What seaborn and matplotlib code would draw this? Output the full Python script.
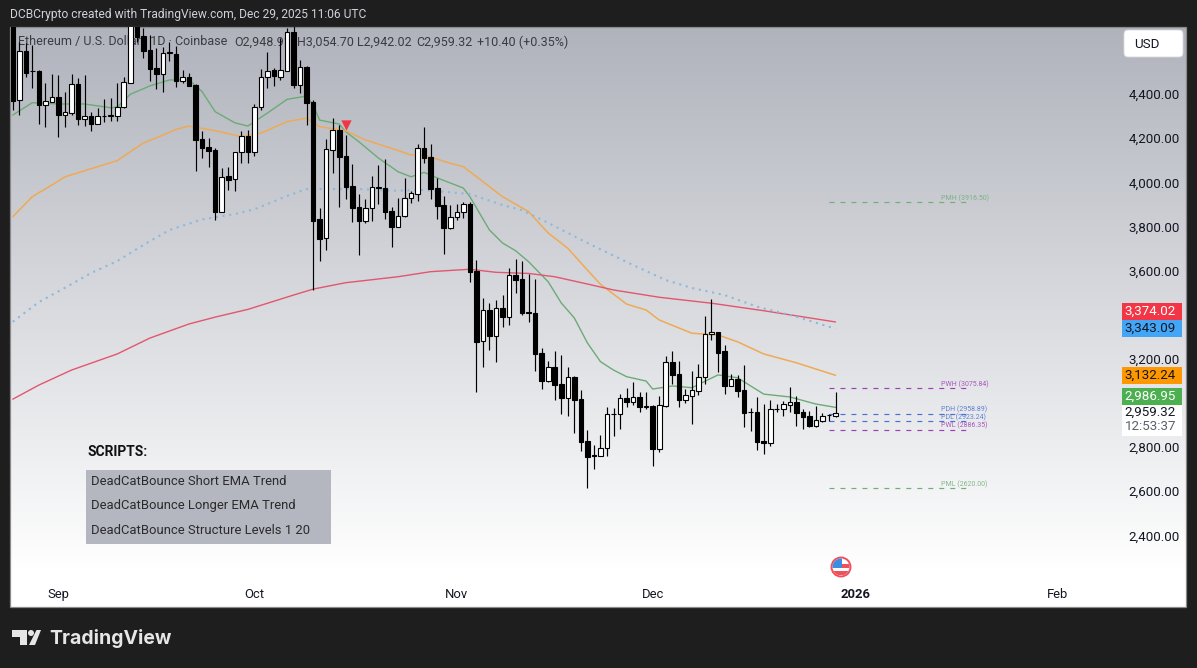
import numpy as np
import matplotlib
matplotlib.use('Agg')
import matplotlib.pyplot as plt
from matplotlib.patches import Rectangle, Polygon, Circle, FancyBboxPatch
from matplotlib.transforms import Affine2D
import seaborn as sns

# daily candles, day 0 = Sep 1
days = list(range(-7, 120))
opens = [4773, 4379, 4602, 4510, 4512, 4359, 4373,
         4392, 4312, 4323, 4451, 4295, 4308, 4273, 4306, 4309, 4309,
         4350, 4459, 4765, 4672, 4607, 4525, 4499, 4595, 4589, 4468,
         4483, 4448, 4202, 4167, 4153, 3874, 4036, 4020, 4143, 4217,
         4146, 4350, 4486, 4516, 4486, 4513, 4690, 4450, 4531, 4372,
         3841, 3753, 4155, 4244, 4126, 3990, 3895, 3833, 3889, 3983,
         3980, 3876, 3806, 3856, 3934, 3953, 4161, 4122, 3980, 3903,
         3801, 3848, 3871, 3909, 3604, 3286, 3427, 3312, 3436, 3398,
         3586, 3567, 3418, 3413, 3232, 3108, 3170, 3093, 3028, 3124,
         3023, 2833, 2770, 2768, 2801, 2957, 2958, 3029, 3013, 3034,
         2990, 2993, 2799, 2993, 3191, 3138, 3022, 3040, 3062, 3126,
         3318, 3328, 3242, 3085, 3117, 3066, 2965, 2965, 2834, 2827,
         2979, 2978, 2999, 3010, 2966, 2948, 2904, 2926, 2952, 2948.91]
highs = [4788, 4645, 4640, 4629, 4516, 4456, 4498,
         4493, 4418, 4498, 4478, 4493, 4327, 4342, 4383, 4388, 4456,
         4483, 4796, 4796, 4705, 4675, 4614, 4622, 4645, 4625, 4516,
         4501, 4451, 4240, 4206, 4161, 4070, 4078, 4146, 4241, 4244,
         4362, 4519, 4599, 4524, 4660, 4705, 4743, 4561, 4534, 4380,
         3891, 4202, 4297, 4267, 4221, 4090, 3954, 3931, 4036, 4085,
         4111, 3896, 3936, 4025, 3969, 4181, 4256, 4181, 4027, 3946,
         3904, 3907, 3919, 3919, 3655, 3481, 3459, 3473, 3496, 3620,
         3658, 3650, 3591, 3569, 3255, 3197, 3244, 3224, 3168, 3129,
         3066, 2884, 2816, 2862, 2990, 2983, 3047, 3073, 3103, 3058,
         3058, 2998, 3038, 3220, 3242, 3197, 3070, 3152, 3183, 3401,
         3478, 3328, 3270, 3137, 3134, 3179, 2983, 3032, 3000, 3020,
         3002, 3017, 3078, 3038, 2978, 2970, 2993, 2963, 2957, 3054.70]
lows = [4335, 4312, 4486, 4433, 4271, 4259, 4370,
        4214, 4259, 4312, 4267, 4262, 4241, 4271, 4282, 4286, 4286,
        4342, 4456, 4644, 4569, 4468, 4428, 4418, 4558, 4438, 4456,
        4444, 4060, 4116, 4078, 3836, 3872, 3972, 3969, 4093, 4093,
        4128, 4335, 4433, 4444, 4471, 4511, 4433, 4410, 4267, 3519,
        3652, 3700, 4048, 3896, 3933, 3828, 3678, 3824, 3833, 3909,
        3842, 3715, 3803, 3851, 3915, 3924, 4096, 3933, 3842, 3681,
        3795, 3836, 3844, 3556, 3058, 3171, 3247, 3194, 3352, 3360,
        3507, 3406, 3375, 3152, 3069, 3103, 3020, 2957, 2948, 2872,
        2790, 2623, 2707, 2766, 2766, 2857, 2889, 2990, 2998, 2967,
        2978, 2722, 2786, 2988, 3093, 2990, 3005, 2911, 3043, 3093,
        3292, 3147, 3047, 3084, 3032, 2899, 2881, 2794, 2775, 2813,
        2966, 2949, 2967, 2904, 2889, 2896, 2896, 2922, 2926, 2942.02]
closes = [4377, 4601, 4504, 4513, 4359, 4374, 4392,
          4312, 4324, 4451, 4294, 4306, 4271, 4306, 4308, 4311, 4350,
          4460, 4765, 4667, 4604, 4521, 4498, 4592, 4596, 4468, 4483,
          4445, 4199, 4164, 4150, 3874, 4033, 4018, 4143, 4217, 4144,
          4350, 4486, 4513, 4490, 4515, 4687, 4448, 4528, 4365, 3833,
          3750, 4157, 4243, 4123, 3986, 3892, 3833, 3889, 3984, 3984,
          3874, 3806, 3856, 3934, 3957, 4161, 4119, 3978, 3901, 3801,
          3848, 3871, 3907, 3602, 3284, 3427, 3312, 3436, 3398, 3586,
          3564, 3416, 3416, 3229, 3108, 3168, 3088, 3028, 3123, 3020,
          2831, 2763, 2768, 2801, 2955, 2959, 3028, 3013, 3032, 2990,
          2992, 2799, 2996, 3191, 3135, 3020, 3041, 3064, 3126, 3318,
          3327, 3235, 3084, 3114, 3061, 2963, 2966, 2831, 2825, 2978,
          2981, 3001, 3010, 2963, 2945, 2904, 2928, 2948, 2953, 2959.32]

# moving averages, read at the bends
green_days = [-7, -4, 0, 4, 8, 9, 11, 14, 17, 20, 22, 24, 27, 29, 32, 35, 38, 39, 40, 43, 44, 46, 49,
              52, 54, 56, 58, 62, 63, 66, 68, 70, 72, 75, 77, 79, 81, 83, 85, 87, 90, 91, 94, 97, 101,
              104, 108, 112, 116, 119]
green_vals = [4312, 4368, 4362, 4362, 4345, 4348, 4406, 4444, 4471, 4471, 4418, 4327, 4277, 4262, 4321, 4383,
              4398, 4357, 4289, 4271, 4236, 4191, 4117, 4055, 4032, 4052, 4027, 3981, 3942, 3791, 3732, 3697,
              3647, 3556, 3460, 3392, 3279, 3194, 3156, 3126, 3106, 3070, 3084, 3076, 3134, 3121, 3047, 3034,
              3002, 2986.95]
orange_days = [-7, -4, -1, 1, 6, 9, 11, 13, 16, 18, 20, 24, 28, 31, 35, 38, 40, 44, 47, 51, 54, 56, 60, 62,
               65, 68, 72, 75, 78, 81, 83, 87, 90, 92, 97, 101, 104, 108, 113, 119]
orange_vals = [3851, 3942, 3995, 4032, 4078, 4105, 4146, 4185, 4221, 4247, 4262, 4241, 4214, 4230, 4282, 4298,
               4259, 4241, 4199, 4161, 4131, 4131, 4093, 4078, 4010, 3942, 3874, 3777, 3708, 3609, 3545, 3455,
               3428, 3383, 3323, 3315, 3284, 3229, 3189, 3132.24]
blue_days = [-7, -3, 1, 5, 9, 13, 17, 22, 27, 30, 35, 38, 46, 51, 56, 63, 68, 71, 75, 81, 88, 93, 97,
             102, 107, 113, 119]
blue_vals = [3375, 3464, 3529, 3596, 3650, 3723, 3791, 3839, 3863, 3885, 3945, 3977, 3977, 3969, 3972, 3954,
             3904, 3881, 3823, 3732, 3632, 3564, 3528, 3496, 3443, 3398, 3343.09]
red_days = [-7, -3, 2, 9, 14, 20, 24, 29, 36, 39, 44, 52, 57, 63, 67, 72, 76, 81, 85, 92, 100, 108, 119]
red_vals = [3024, 3088, 3156, 3229, 3301, 3365, 3396, 3431, 3496, 3523, 3552, 3579, 3602, 3613, 3599, 3594,
            3579, 3546, 3519, 3486, 3459, 3425, 3374.02]

# structure levels
level_names = ['PMH', 'PWH', 'PDH', 'PDL', 'PWL', 'PML']
level_vals = [3916.50, 3075.84, 2958.89, 2923.24, 2886.35, 2620.00]
level_colors = ['#6fae78', '#9c3fb5', '#4a6fd0', '#4a6fd0', '#9c3fb5', '#6fae78']

ytick_vals = [2400, 2600, 2800, 3200, 3600, 3800, 4000, 4200, 4400]
month_days = [0, 30, 61, 91, 122, 153]
month_labels = ['Sep', 'Oct', 'Nov', 'Dec', '2026', 'Feb']
script_names = ['DeadCatBounce Short EMA Trend', 'DeadCatBounce Longer EMA Trend',
                'DeadCatBounce Structure Levels 1 20']

sns.set_theme(style='white')
plt.rcParams['font.family'] = ['Roboto', 'DejaVu Sans']

W, H = 1197, 668
fig = plt.figure(figsize=(W / 100, H / 100), dpi=100, facecolor='#1e1e1e')

# backdrop in pixel coordinates
bg = fig.add_axes([0, 0, 1, 1], zorder=0)
bg.set_xlim(0, W)
bg.set_ylim(H, 0)
bg.axis('off')
grad = np.linspace(0, 1, 300)[:, None, None] * (np.array([255, 255, 255]) - np.array([176, 179, 188])) + np.array([176, 179, 188])
bg.imshow(grad / 255, extent=[10, 1186, 570, 27], aspect='auto', zorder=1)
bg.add_patch(Rectangle((10, 570), 1176, 37, color='white', lw=0, zorder=1))
bg.set_xlim(0, W)
bg.set_ylim(H, 0)
bg.add_patch(Rectangle((10, 27), 1176, 580, fill=False, ec='#8a8a8a', lw=0.9, zorder=2))
bg.text(10, 14.5, 'DCBCrypto created with TradingView.com, Dec 29, 2025 11:06 UTC', color='#cfd2d8',
        fontsize=8.65, va='center', ha='left')

# TradingView mark
bg.add_patch(Polygon([(12, 630), (27, 630), (27, 645), (20, 645), (20, 636.5), (12, 636.5)], color='#e6e6e6', lw=0))
bg.add_patch(Circle((31, 633), 3, color='#e6e6e6', lw=0))
bg.add_patch(Polygon([(36.5, 630), (41, 630), (35, 645), (29, 645)], color='#e6e6e6', lw=0))
bg.text(49, 638, 'TradingView', color='#e6e6e6', fontsize=14, fontweight='bold', family='Inter',
        va='center', ha='left')

# scripts box
bg.add_patch(Rectangle((86, 470), 245, 74, color='#b5b7c0', lw=0, zorder=3))
bg.text(87, 452, 'SCRIPTS:', color='#111111', fontsize=10, fontweight='bold', va='center', ha='left', zorder=4)
for y_px, name in zip([481.5, 506, 530], script_names):
    bg.text(91, y_px, name, color='#2b2b2b', fontsize=9.4, va='center', ha='left', zorder=4)

# main chart, matches the price and date scales of the picture
ax = fig.add_axes([11 / W, (H - 577) / H, (1117 - 11) / W, (577 - 27) / H], zorder=1)
ax.patch.set_alpha(0)
ax.set_xlim(-7.27, 162.1)
ax.set_ylim(2218, 4711)
sns.despine(ax=ax, left=True, bottom=True, right=True, top=True)

bg.text(18, 42, 'Ethereum / U.S. Dollar · 1D · Coinbase', color='#3a3c42', fontsize=9, va='center', ha='left', zorder=3)
bg.text(234, 42, 'O2,948.91', color='#3a3c42', fontsize=9, va='center', ha='left', zorder=3)
bg.text(297, 42, 'H3,054.70', color='#3a3c42', fontsize=9, va='center', ha='left', zorder=3)
bg.text(357, 42, 'L2,942.02', color='#3a3c42', fontsize=9, va='center', ha='left', zorder=3)
bg.text(416, 42, 'C2,959.32', color='#3a3c42', fontsize=9, va='center', ha='left', zorder=3)
bg.text(477, 42, '+10.40 (+0.35%)', color='#3a3c42', fontsize=9, va='center', ha='left', zorder=3)

sns.lineplot(x=green_days, y=green_vals, ax=ax, color='#6cab75', linewidth=1.0, errorbar=None, zorder=2)
sns.lineplot(x=orange_days, y=orange_vals, ax=ax, color='#eeaa55', linewidth=1.1, errorbar=None, zorder=2)
sns.lineplot(x=red_days, y=red_vals, ax=ax, color='#e2566f', linewidth=1.0, errorbar=None, zorder=2)
blue_line = sns.lineplot(x=blue_days, y=blue_vals, ax=ax, color='#8db8da', linewidth=1.5, errorbar=None, zorder=2)
blue_line.lines[-1].set_linestyle((0, (1, 2.25)))

# candles
for d, o, h, l, c in zip(days, opens, highs, lows, closes):
    ax.vlines(d, l, h, color='black', lw=0.85, zorder=3)
    up = c >= o
    ax.bar(d, abs(c - o), bottom=min(o, c), width=0.7, color='white' if up else 'black',
           edgecolor='black', linewidth=0.8, zorder=4)

sns.scatterplot(x=[44], y=[4267], ax=ax, marker='v', s=55, color='#f23645', linewidth=0, zorder=5)

for name, val, col in zip(level_names, level_vals, level_colors):
    ax.hlines(val, 118, 139, color=col, lw=0.85, linestyles=(0, (4.2, 5.1)), zorder=2)
    ax.annotate(f'{name} ({val:.2f})', xy=(135.2, val), xytext=(0, 2.6), textcoords='offset points',
                color=col, fontsize=5.0, alpha=0.85, va='center', ha='left')

ax.set_xticks(month_days)
ax.set_xticklabels(month_labels, fontsize=9.4, color='#131722')
ax.get_xticklabels()[4].set_fontweight('bold')
ax.set_yticks(ytick_vals)
ax.set_yticklabels([f'{v:,.2f}' for v in ytick_vals], fontsize=9.6, color='#131722')
ax.yaxis.tick_right()
ax.tick_params(axis='x', length=0, pad=8)
ax.tick_params(axis='y', length=0, pad=8.5)
for lab in ax.get_yticklabels():
    lab.set_transform(lab.get_transform() + Affine2D().translate(0, 1.5))

# price tags and the currency button on top
top = fig.add_axes([0, 0, 1, 1], zorder=2)
top.set_xlim(0, W)
top.set_ylim(H, 0)
top.axis('off')
top.add_patch(FancyBboxPatch((1124, 30), 59, 27, boxstyle='round,pad=0,rounding_size=4', fc='white', ec='#d8d9dd', lw=0.6))
top.text(1134, 44, 'USD', color='#131722', fontsize=9.6, va='center', ha='left')

tag_rows = [(303.3, 16.7, '#f23645', 'white', f'{3374.02:,.2f}'),
            (320, 16.7, '#42a5f5', '#131722', f'{3343.09:,.2f}'),
            (367.3, 16.7, '#ff9800', '#131722', f'{3132.24:,.2f}'),
            (388, 16.7, '#4caf50', 'white', f'{2986.95:,.2f}')]
for y0, h_px, fc, tc, txt in tag_rows:
    top.add_patch(Rectangle((1122, y0), 60, h_px, color=fc, lw=0))
    top.text(1176, y0 + h_px / 2, txt, color=tc, fontsize=9.6, va='center', ha='right')
top.add_patch(Rectangle((1122, 405), 60, 31, color='white', lw=0))
top.text(1176, 412.5, f'{2959.32:,.2f}', color='#131722', fontsize=9.6, va='center', ha='right')
top.text(1176, 426.5, '12:53:37', color='#5d606b', fontsize=9.6, va='center', ha='right')

# economic event flag
flag = Circle((841, 567), 9.5, fc='white', ec='#f0505c', lw=1.4, zorder=5)
top.add_patch(flag)
clip = Circle((841, 567), 8.5, transform=top.transData)
for x0, y0, w, h_px, col in [(832, 558, 10, 10, '#3d8ee0'), (842, 563.5, 9, 4, '#f0505c'), (832, 571, 18, 3.5, '#f0505c')]:
    p = Rectangle((x0, y0), w, h_px, color=col, lw=0, zorder=6)
    top.add_patch(p)
    p.set_clip_path(clip)

fig.savefig('out.png', dpi=100, facecolor=fig.get_facecolor())
